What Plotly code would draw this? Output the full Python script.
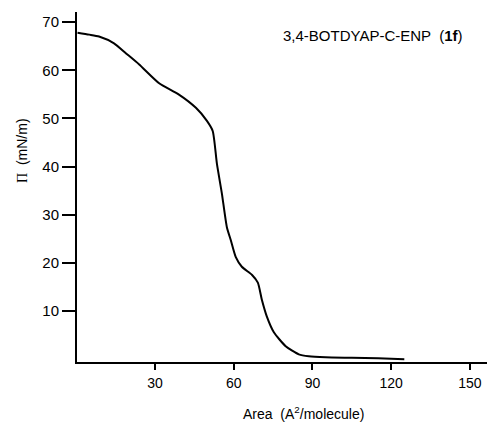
import plotly.graph_objects as go

area = [0.5, 5, 8.7, 14.4, 19, 24, 31.6, 39, 45.6, 49.8, 52, 53.6, 55.5, 57.4, 58.9,
        60.8, 63.1, 67, 69.2, 70.7, 72.6, 75.3, 79.8, 84.8, 88.6, 95, 105, 115, 125]
pressure = [67.8, 67.4, 67.0, 65.6, 63.5, 61.2, 57.3, 55, 52.2, 49.5, 47.4, 40.6, 34.4,
            27.4, 24.7, 21.2, 19.2, 17.5, 15.9, 12.4, 8.9, 5.6, 2.7, 1.0, 0.6, 0.4,
            0.3, 0.2, 0.0]
x_ticks = [30, 60, 90, 120, 150]
y_ticks = [10, 20, 30, 40, 50, 60, 70]

font = "Liberation Sans, Arial, sans-serif"

fig = go.Figure()
fig.add_trace(go.Scatter(x=area, y=pressure, mode="lines",
                         line=dict(color="black", width=2, shape="spline", smoothing=0.6),
                         showlegend=False, hoverinfo="skip"))

fig.update_layout(
    width=487, height=423,
    margin=dict(l=77, r=0, t=12, b=61),
    paper_bgcolor="white", plot_bgcolor="white",
    font=dict(family=font, size=14, color="black"),
    xaxis=dict(range=[0.3, 156.5], tickvals=x_ticks, ticks="outside", ticklen=6,
               tickwidth=1.5, tickcolor="black", showline=True, linewidth=2,
               linecolor="black", showgrid=False, zeroline=False,
               ticklabelstandoff=1,
               tickfont=dict(size=14, family=font)),
    yaxis=dict(range=[-0.58, 72.1], tickvals=y_ticks, ticks="outside", ticklen=13,
               tickwidth=1.5, tickcolor="black", showline=True, linewidth=2,
               linecolor="black", showgrid=False, zeroline=False,
               ticklabelstandoff=0,
               tickfont=dict(size=15, family=font)),
    annotations=[
        dict(text="3,4-BOTDYAP-C-ENP  (<b>1f</b>)", xref="paper", yref="paper",
             x=(281 - 77) / 410, y=(362 - 35) / 350, xanchor="left", yanchor="middle",
             showarrow=False, font=dict(size=15, family=font)),
        dict(text="Area  (A<sup>2</sup>/molecule)", xref="paper", yref="paper",
             x=(303.5 - 77) / 410, y=-(413 - 362) / 350, xanchor="center", yanchor="middle",
             showarrow=False, font=dict(size=14, family=font)),
        dict(text="<span style='font-family:Liberation Serif'>Π</span>  (mN/m)",
             xref="paper", yref="paper", textangle=-90,
             x=-(77 - 22) / 410, y=(362 - 151) / 350, xanchor="center", yanchor="middle",
             showarrow=False, font=dict(size=14, family=font)),
    ],
)

fig.write_html("out.html", config={"displayModeBar": False},
               post_script="document.body.style.margin='0px';")
